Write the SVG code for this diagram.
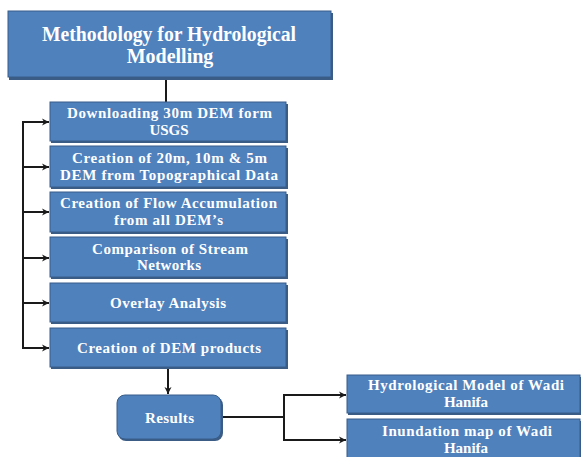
<svg xmlns="http://www.w3.org/2000/svg" width="581" height="457" viewBox="0 0 581 457">
<defs>
<style>
.box{fill:#4F81BD;stroke:#385D8A;stroke-width:1}
.sh{fill:#3B5C85}
.t{font-family:"Liberation Serif","Times New Roman",serif;font-weight:bold;fill:#FFFFFF;text-anchor:middle;font-size:15px}
.tt{font-size:20px}
.c{fill:none;stroke:#1a1a1a;stroke-width:2}
</style>
<marker id="ar" markerWidth="8" markerHeight="8" refX="7" refY="4" orient="auto" markerUnits="userSpaceOnUse">
<path d="M0,0.5 L7,4 L0,7.5 L2,4 Z" fill="#1a1a1a"/>
</marker>
</defs>
<rect width="581" height="457" fill="#FFFFFF"/>
<g id="connectors">
<line class="c" x1="166" y1="80" x2="166" y2="102"/>
<polyline class="c" points="23,122 23,348"/>
<line class="c" x1="22" y1="122" x2="49" y2="122" marker-end="url(#ar)"/>
<line class="c" x1="23" y1="167" x2="49" y2="167" marker-end="url(#ar)"/>
<line class="c" x1="23" y1="212" x2="49" y2="212" marker-end="url(#ar)"/>
<line class="c" x1="23" y1="258" x2="49" y2="258" marker-end="url(#ar)"/>
<line class="c" x1="23" y1="303" x2="49" y2="303" marker-end="url(#ar)"/>
<line class="c" x1="22" y1="348" x2="49" y2="348" marker-end="url(#ar)"/>
<line class="c" x1="168" y1="369" x2="168" y2="394" marker-end="url(#ar)"/>
<line class="c" x1="222" y1="417" x2="284" y2="417"/>
<line class="c" x1="284" y1="394" x2="284" y2="441"/>
<line class="c" x1="283" y1="395" x2="346" y2="395" marker-end="url(#ar)"/>
<line class="c" x1="283" y1="440" x2="346" y2="440" marker-end="url(#ar)"/>
</g>
<g id="title">
<rect class="sh" x="9" y="13" width="324" height="67"/>
<rect class="box" x="8" y="11" width="323" height="66"/>
<text class="t tt" x="169" y="41" textLength="254" lengthAdjust="spacingAndGlyphs">Methodology for Hydrological</text>
<text class="t tt" x="170" y="63">Modelling</text>
</g>
<g id="step1">
<rect class="sh" x="51" y="104" width="237" height="39"/>
<rect class="box" x="50" y="102" width="236" height="39"/>
<text class="t" x="169.5" y="118" textLength="205" lengthAdjust="spacing">Downloading 30m DEM form</text>
<text class="t" x="169" y="135">USGS</text>
</g>
<g id="step2">
<rect class="sh" x="51" y="148" width="237" height="41"/>
<rect class="box" x="50" y="146" width="236" height="41"/>
<text class="t" x="169.5" y="163" textLength="195" lengthAdjust="spacing">Creation of 20m, 10m &amp; 5m</text>
<text class="t" x="169" y="180" textLength="218" lengthAdjust="spacing">DEM from Topographical Data</text>
</g>
<g id="step3">
<rect class="sh" x="51" y="194" width="237" height="40"/>
<rect class="box" x="50" y="192" width="236" height="40"/>
<text class="t" x="168.5" y="208" textLength="217" lengthAdjust="spacing">Creation of Flow Accumulation</text>
<text class="t" x="168.5" y="225" textLength="109" lengthAdjust="spacing">from all DEM’s</text>
</g>
<g id="step4">
<rect class="sh" x="51" y="239" width="237" height="40"/>
<rect class="box" x="50" y="237" width="236" height="40"/>
<text class="t" x="170" y="254" textLength="156" lengthAdjust="spacing">Comparison of Stream</text>
<text class="t" x="169" y="270" textLength="64" lengthAdjust="spacing">Networks</text>
</g>
<g id="step5">
<rect class="sh" x="51" y="285" width="237" height="39"/>
<rect class="box" x="50" y="283" width="236" height="39"/>
<text class="t" x="168" y="308" textLength="116" lengthAdjust="spacing">Overlay Analysis</text>
</g>
<g id="step6">
<rect class="sh" x="51" y="330" width="237" height="39"/>
<rect class="box" x="50" y="328" width="236" height="39"/>
<text class="t" x="169" y="353" textLength="184" lengthAdjust="spacing">Creation of DEM products</text>
</g>
<g id="results">
<rect class="sh" x="118" y="397" width="105" height="44" rx="8"/>
<rect class="box" x="117" y="395" width="104" height="44" rx="8"/>
<text class="t" x="169.5" y="423" textLength="49" lengthAdjust="spacing">Results</text>
</g>
<g id="out1">
<rect class="sh" x="348" y="377" width="234" height="38"/>
<rect class="box" x="347" y="375" width="233" height="38"/>
<text class="t" x="466" y="390" textLength="196" lengthAdjust="spacing">Hydrological Model of Wadi</text>
<text class="t" x="466" y="407">Hanifa</text>
</g>
<g id="out2">
<rect class="sh" x="348" y="421" width="234" height="40"/>
<rect class="box" x="347" y="419" width="233" height="40"/>
<text class="t" x="467" y="436" textLength="170" lengthAdjust="spacing">Inundation map of Wadi</text>
<text class="t" x="466" y="453">Hanifa</text>
</g>
</svg>
